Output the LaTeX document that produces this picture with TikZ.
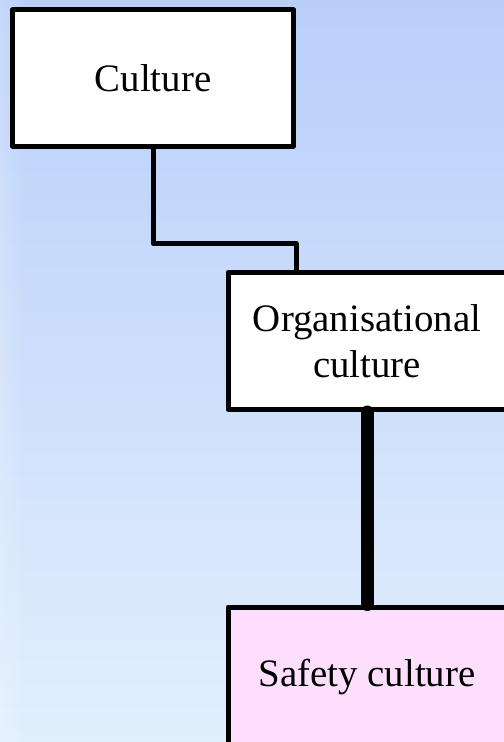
\documentclass[tikz,border=0pt]{standalone}
\usepackage{fontspec}
\setmainfont{Liberation Serif}
\usetikzlibrary{positioning, calc, fadings}
\definecolor{bgtop}{HTML}{B9CFFA}
\definecolor{bgbottom}{HTML}{E2EFFD}
\definecolor{safetypink}{HTML}{FDDFFD}
\begin{document}
\begin{tikzpicture}[
    x=1bp, y=-1bp,
    font=\fontsize{39}{46}\selectfont,
    box/.style={
        rectangle, draw=black, line width=5bp,
        line join=round,
        fill=white,
        minimum width=278bp,
        minimum height=137bp,
        align=center,
        inner sep=0pt
    },
    safetybox/.style={
        box,
        fill=safetypink,
        minimum height=140bp
    },
    link/.style={
        draw=black, line width=5bp, line join=round
    },
    strong/.style={
        draw=black, line width=13bp, line cap=round
    }
]

% ==========================================
% BACKGROUND
% ==========================================

\useasboundingbox (0,0) rectangle (504,742);
\clip (0,0) rectangle (504,742);
\shade[top color=bgtop, bottom color=bgbottom] (0,0) rectangle (504,742);
\fill[white, opacity=0.2, path fading=east] (0,0) rectangle (26,742);

% ==========================================
% BOXES
% ==========================================

\node[box, minimum width=281bp, minimum height=136bp] (culture) at (153,78) {Culture};
\node[box] (org) at (367,341) {Organisational\\culture};
\node[safetybox] (safety) at (367,677) {Safety culture};

% ==========================================
% CONNECTIONS
% ==========================================

\draw[link] (culture.south) -- ++(0,95) -| ([xshift=-71bp]org.north);
\draw[strong] (org.south) -- (safety.north);

\end{tikzpicture}
\end{document}
